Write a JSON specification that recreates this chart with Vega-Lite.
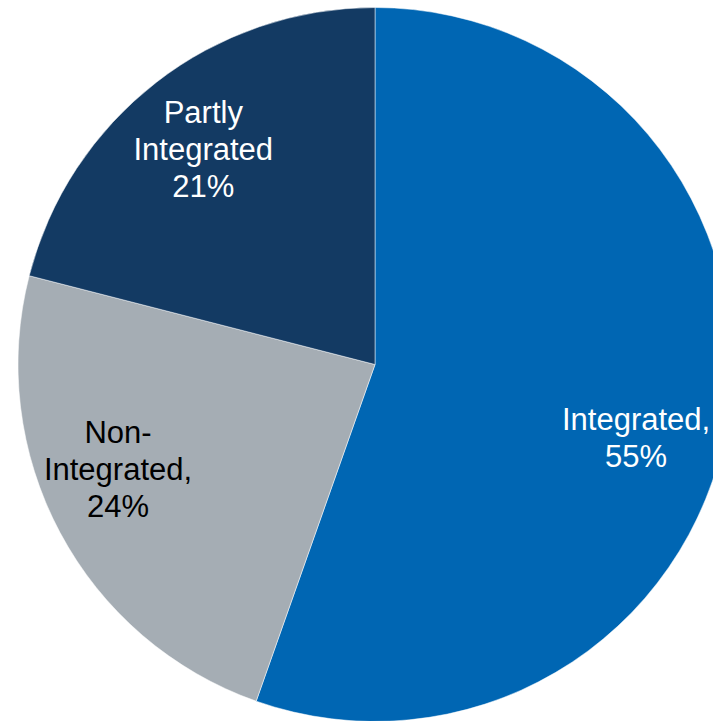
{
  "$schema": "https://vega.github.io/schema/vega-lite/v6.json",
  "width": 676,
  "height": 713,
  "autosize": {"type": "none"},
  "padding": {"left": 37, "top": 8, "right": 0, "bottom": 0},
  "background": "white",
  "view": {"stroke": null},
  "data": {
    "values": [
      {"segment": "Integrated", "value": 55.4, "order": 1, "label": "Integrated,\n55%"},
      {"segment": "Non-Integrated", "value": 23.6, "order": 2, "label": "Non-\nIntegrated,\n24%"},
      {"segment": "Partly Integrated", "value": 21.0, "order": 3, "label": "Partly\nIntegrated\n21%"}
    ]
  },
  "encoding": {
    "theta": {"field": "value", "type": "quantitative", "stack": true},
    "order": {"field": "order", "type": "ordinal"}
  },
  "layer": [
    {
      "mark": {"type": "arc", "outerRadius": 357, "stroke": "white", "strokeWidth": 0.5},
      "encoding": {
        "color": {
          "field": "segment",
          "type": "nominal",
          "scale": {
            "domain": ["Integrated", "Non-Integrated", "Partly Integrated"],
            "range": ["#0066B3", "#A5ADB4", "#133A63"]
          },
          "legend": null
        }
      }
    },
    {
      "mark": {
        "type": "text", "radius": 272, "dx": -7, "dy": 11,
        "fill": "white", "font": "Liberation Sans", "fontSize": 31,
        "lineHeight": 37, "lineBreak": "\n", "align": "center", "baseline": "middle"
      },
      "encoding": {"text": {"condition": {"test": "datum.segment === 'Integrated'", "field": "label"}, "value": ""}}
    },
    {
      "mark": {
        "type": "text", "radius": 272, "dx": -17, "dy": -59,
        "fill": "black", "font": "Liberation Sans", "fontSize": 31,
        "lineHeight": 37, "lineBreak": "\n", "align": "center", "baseline": "middle"
      },
      "encoding": {"text": {"condition": {"test": "datum.segment === 'Non-Integrated'", "field": "label"}, "value": ""}}
    },
    {
      "mark": {
        "type": "text", "radius": 272, "dx": -5, "dy": -36,
        "fill": "white", "font": "Liberation Sans", "fontSize": 31,
        "lineHeight": 37, "lineBreak": "\n", "align": "center", "baseline": "middle"
      },
      "encoding": {"text": {"condition": {"test": "datum.segment === 'Partly Integrated'", "field": "label"}, "value": ""}}
    }
  ]
}
